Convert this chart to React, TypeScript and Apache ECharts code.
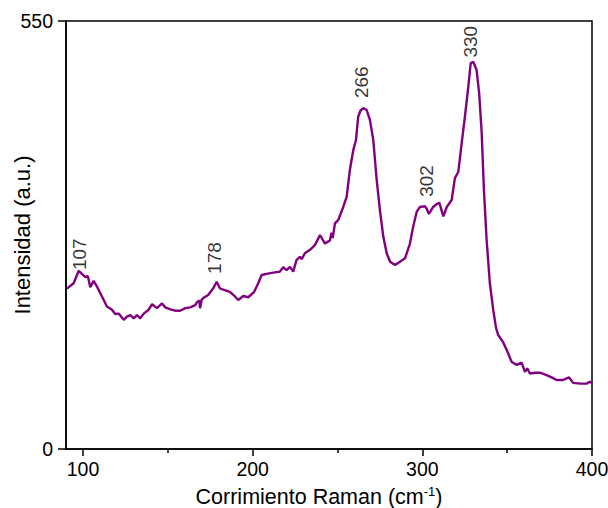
import React, { useEffect, useRef } from "react";
import * as echarts from "echarts";

const ramanShift: number[] = [
  90.5, 91.6, 94.5, 97.5, 99.4, 101.4, 102.9, 104.3, 106.3, 108.2, 111.2, 114.1, 117.1, 119, 121, 124, 125.9,
  127.9, 129.9, 131.8, 133.8, 135.8, 138.7, 140.7, 143.6, 146.6, 148.5, 151.5, 154.4, 157.3, 160.3, 163.2,
  166.2, 167, 168.5, 169, 170, 170.9, 173.8, 176.8, 178.8, 180.7, 183.7, 186.6, 189.6, 191.5, 194.5, 197.4,
  200.9, 203.3, 205.3, 208.2, 212.1, 216.1, 218, 220, 222, 223.9, 225.9, 227.9, 228.9, 230.8, 233.8, 236.7,
  239.7, 242.6, 245.5, 246.5, 247.2, 248.5, 250.4, 253.4, 255.4, 257.3, 259.3, 260.9, 262.2, 263.6, 265.2,
  267.2, 269.1, 271.1, 273.1, 275, 277, 279, 281, 283.9, 286.8, 289.8, 292.7, 294.6, 296.7, 298.6, 301.5,
  302.5, 303.9, 306.4, 308, 310, 312.4, 314.4, 317.3, 319.2, 321.2, 323.2, 325.1, 327.1, 328.5, 330, 332,
  333.5, 335, 336.3, 337.9, 339.8, 341.8, 343.5, 344.7, 347.7, 350.6, 352.6, 355.6, 358.5, 360.5, 361.8,
  363.4, 366.4, 369.3, 373.2, 376.2, 379.1, 383, 386.5, 388.9, 392.9, 396.8, 398.7, 400,
];

const intensity: number[] = [
  206, 208, 213, 229, 225, 221, 222, 208, 216, 209, 196, 183, 179, 173.5, 174, 166, 170,
  172, 168, 172, 168, 174, 179, 186, 181, 187, 182, 179.5, 177.7, 177.7, 181, 182,
  185, 188, 191, 181, 192, 194, 198, 206.5, 215, 206.5, 204, 202, 196, 191.5, 196.6, 195,
  202, 213, 223.6, 225, 226.6, 228, 233.5, 230, 234, 228, 243, 247, 244, 251.5, 256, 262,
  275, 264, 268, 278, 271, 290, 294, 311, 324, 358.5, 384, 397, 427, 435, 438,
  435.6, 423, 397, 345.7, 307, 273, 251.5, 240.7, 236.4, 240.7, 245, 264, 285.7, 305, 311, 312,
  309, 302, 311, 314, 316.5, 299, 311, 320, 348, 356, 393, 427, 465.6, 495.6, 497.7, 487,
  457, 405.7, 333, 268.6, 213, 178.6, 155, 146.5, 137, 123, 112, 108, 111, 99, 103.7,
  97, 98, 98, 95, 92, 88.7, 88.7, 92, 85, 84, 84, 86.5, 85,
];

const peakLabels: string[] = ["107", "178", "266", "302", "330"];
const peakLabelX: number[] = [98.2, 177.8, 264.4, 302.7, 328.6];
const peakLabelY: number[] = [230, 225, 451, 324, 503];

const xMajorTicks: number[] = [100, 200, 300, 400];
const xMinorTicks: number[] = [150, 250, 350];
const yTicks: number[] = [0, 550];

const FONT = "'Liberation Sans', Arial, sans-serif";
const TEXT = "#000";

export default function App() {
  const ref = useRef<HTMLDivElement>(null);

  useEffect(() => {
    if (!ref.current) return;
    const chart = echarts.init(ref.current, undefined, { renderer: "svg" });
    const lineData = ramanShift.map((x, i) => [x, intensity[i]]);
    const labelData = peakLabels.map((t, i) => ({ value: [peakLabelX[i], peakLabelY[i]], name: t }));

    chart.setOption({
      animation: false,
      backgroundColor: "#ffffff",
      grid: {
        left: 66,
        right: 16,
        top: 21,
        bottom: 59,
        show: true,
        borderColor: "#000",
        borderWidth: 1.5,
        containLabel: false,
        outerBoundsMode: "none",
      },
      xAxis: [
        {
          type: "value",
          position: "bottom",
          min: 90,
          max: 400,
          name: "Corrimiento Raman (cm{sup|-1})",
          nameLocation: "middle",
          nameGap: 36,
          nameMoveOverlap: false,
          nameTextStyle: {
            fontFamily: FONT,
            fontSize: 21.5,
            color: TEXT,
            padding: [0, 20, 0, 0],
            rich: {
              sup: { fontFamily: FONT, fontSize: 13, verticalAlign: "top", padding: [0, 0, 10, 0], color: TEXT },
            },
          },
          axisLine: { show: true, lineStyle: { color: "#000", width: 1.5 } },
          axisTick: { show: true, length: 7, customValues: xMajorTicks, lineStyle: { color: "#000", width: 1.5 } },
          axisLabel: {
            customValues: xMajorTicks,
            fontFamily: FONT,
            fontSize: 19.5,
            color: TEXT,
            margin: 10,
          },
          splitLine: { show: false },
        },
        {
          type: "value",
          position: "bottom",
          min: 90,
          max: 400,
          axisLine: { show: false },
          axisTick: { show: true, length: 4, customValues: xMinorTicks, lineStyle: { color: "#000", width: 1.5 } },
          axisLabel: { show: false },
          splitLine: { show: false },
        },
      ],
      yAxis: {
        type: "value",
        min: 0,
        max: 550,
        name: "Intensidad (a.u.)",
        nameLocation: "middle",
        nameGap: 33,
        nameMoveOverlap: false,
        nameTextStyle: { fontFamily: FONT, fontSize: 22, color: TEXT },
        axisLine: { show: true, lineStyle: { color: "#000", width: 1.5 } },
        axisTick: { show: true, length: 8, customValues: yTicks, lineStyle: { color: "#000", width: 1.5 } },
        axisLabel: { customValues: yTicks, fontFamily: FONT, fontSize: 19.5, color: TEXT, margin: 13 },
        splitLine: { show: false },
      },
      series: [
        {
          type: "line",
          data: lineData,
          showSymbol: false,
          symbol: "none",
          lineStyle: { color: "#800080", width: 2.4 },
          xAxisIndex: 0,
          z: 3,
        },
        {
          type: "scatter",
          data: labelData,
          symbolSize: 0,
          xAxisIndex: 0,
          silent: true,
          label: {
            show: true,
            formatter: (p: any) => p.name,
            position: "inside",
            rotate: 90,
            align: "left",
            verticalAlign: "middle",
            fontFamily: FONT,
            fontSize: 19,
            color: TEXT,
          },
          z: 4,
        },
      ],
    });

    return () => chart.dispose();
  }, []);

  return (
    <div
      ref={ref}
      style={{ position: "fixed", left: 0, top: 0, width: 608, height: 508, background: "#fff" }}
    />
  );
}
